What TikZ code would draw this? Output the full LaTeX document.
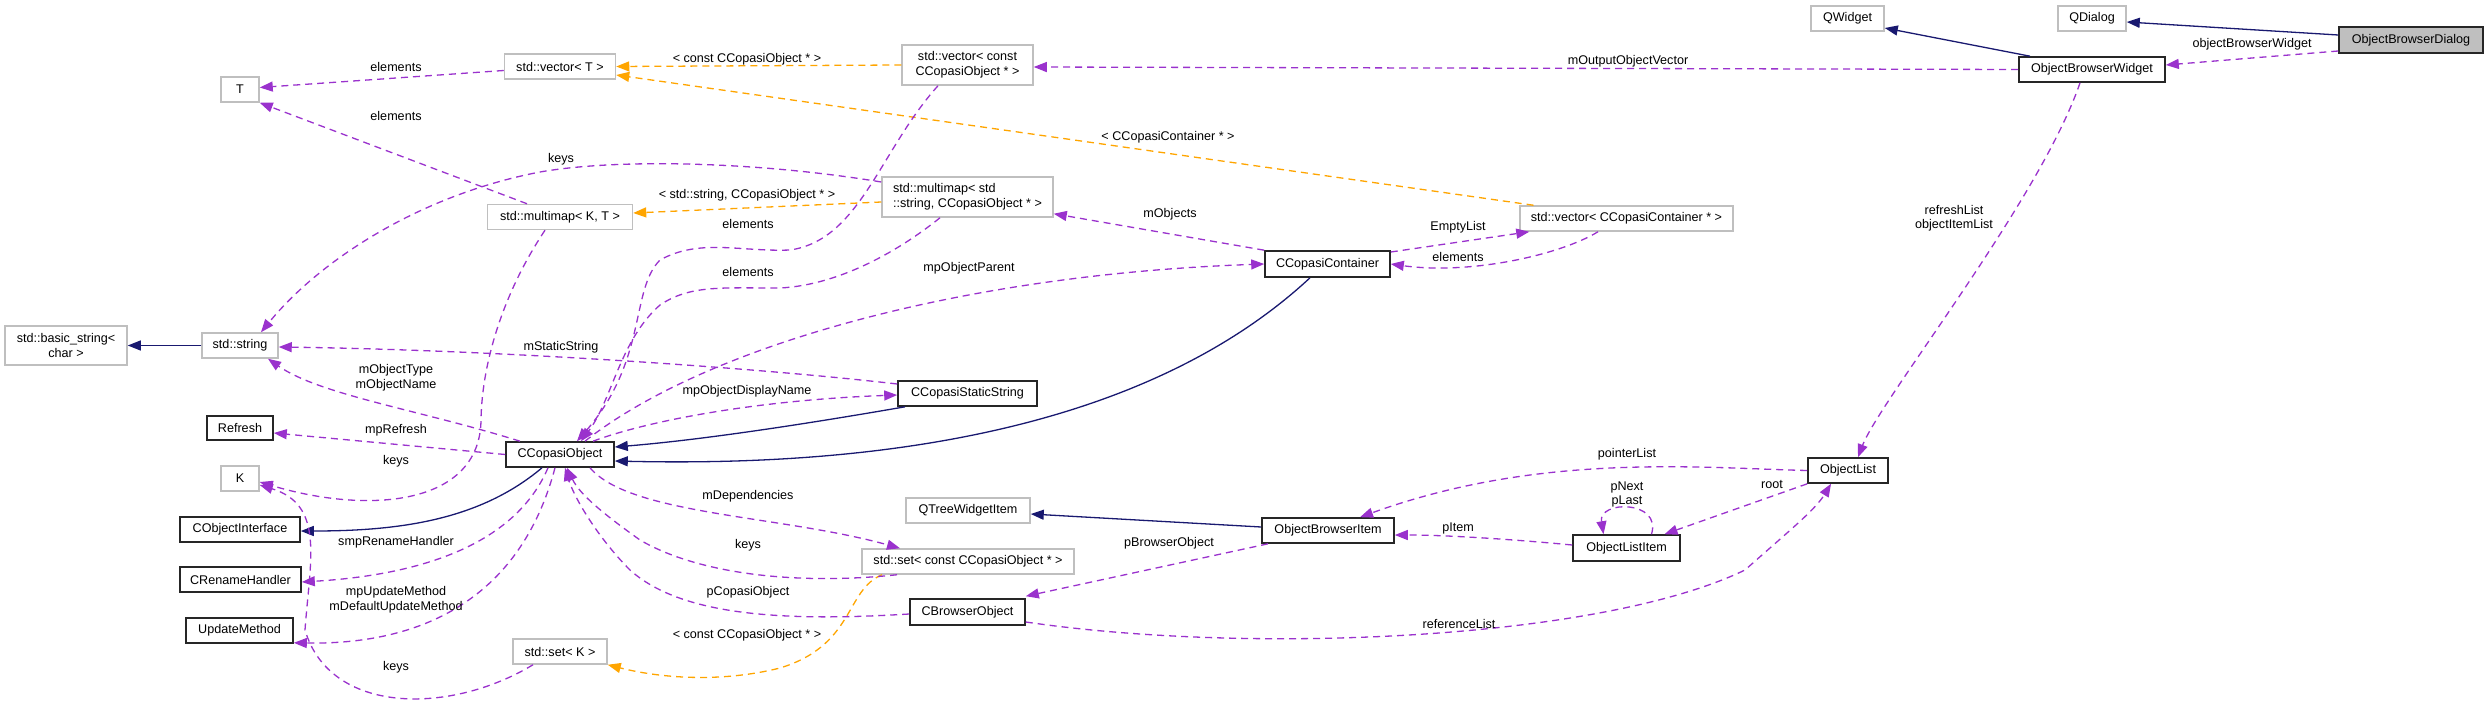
\documentclass[tikz,border=0pt]{standalone}
\usepackage{fontspec}
\setmainfont{Liberation Sans}
\usetikzlibrary{arrows.meta,calc}
\definecolor{purp}{RGB}{154,50,205}
\definecolor{orng}{RGB}{255,165,0}
\definecolor{mblue}{RGB}{25,25,112}
\definecolor{gbord}{RGB}{191,191,191}
\definecolor{gfill}{RGB}{191,191,191}
\begin{document}
\begin{tikzpicture}[x=1pt,y=-1pt,
  every node/.style={font=\fontsize{12.6}{15}\selectfont, inner sep=0pt},
  gbox/.style={draw=gbord, line width=1.5pt, fill=white},
  bbox/.style={draw=black!85, line width=1.6pt, fill=white},
  lbl/.style={fill=none, align=center, font=\fontsize{12.6}{14.5}\selectfont},
  inh/.style={draw=mblue, line width=1.3pt, -{Triangle[length=13pt,width=10pt]}},
  usee/.style={draw=purp, line width=1.3pt, dash pattern=on 7pt off 5pt, -{Triangle[length=13pt,width=10pt]}},
  tpl/.style={draw=orng, line width=1.3pt, dash pattern=on 7pt off 5pt, -{Triangle[length=13pt,width=10pt]}}
]
\useasboundingbox (0,0) rectangle (2488,706);

% nodes
\node[bbox, fill=gfill, minimum width=144pt, minimum height=26pt] (obd) at (2411,40) {ObjectBrowserDialog};
\node[gbox, minimum width=68pt, minimum height=25pt] (qdialog) at (2092,18.5) {QDialog};
\node[gbox, minimum width=73pt, minimum height=25pt] (qwidget) at (1847.5,18.5) {QWidget};
\node[bbox, minimum width=146pt, minimum height=25pt] (obw) at (2092,69.5) {ObjectBrowserWidget};
\node[gbox, minimum width=131pt, minimum height=40pt, align=center] (veccobj) at (967.5,65) {std::vector{\textless} const\\CCopasiObject * {\textgreater}};
\node[gbox, minimum width=111pt, minimum height=25pt] (vecT) at (560,66.5) {std::vector{\textless} T {\textgreater}};
\node[gbox, minimum width=38pt, minimum height=25pt] (T) at (240,89.5) {T};
\node[gbox, minimum width=171pt, minimum height=40pt, align=left] (mmstr) at (967.5,197) {std::multimap{\textless} std\\::string, CCopasiObject * {\textgreater}};
\node[gbox, minimum width=145pt, minimum height=25pt] (mmKT) at (560,217) {std::multimap{\textless} K, T {\textgreater}};
\node[gbox, minimum width=213pt, minimum height=25pt] (veccont) at (1626.5,218.5) {std::vector{\textless} CCopasiContainer * {\textgreater}};
\node[bbox, minimum width=125pt, minimum height=26pt] (ccont) at (1327.5,264) {CCopasiContainer};
\node[gbox, minimum width=122pt, minimum height=39pt, align=center] (bstr) at (66,345.5) {std::basic\_string{\textless}\\char {\textgreater}};
\node[gbox, minimum width=76pt, minimum height=25pt] (sstr) at (240,345.5) {std::string};
\node[bbox, minimum width=139pt, minimum height=25pt] (css) at (967.5,393.5) {CCopasiStaticString};
\node[bbox, minimum width=66pt, minimum height=24pt] (refresh) at (240,428) {Refresh};
\node[bbox, minimum width=108pt, minimum height=25pt] (cobj) at (560,454.5) {CCopasiObject};
\node[gbox, minimum width=38pt, minimum height=25pt] (K) at (240,478.5) {K};
\node[bbox, minimum width=120pt, minimum height=25pt] (coi) at (240,529.5) {CObjectInterface};
\node[bbox, minimum width=121pt, minimum height=25pt] (crh) at (240.5,579.5) {CRenameHandler};
\node[bbox, minimum width=107pt, minimum height=25pt] (um) at (239.5,630.5) {UpdateMethod};
\node[gbox, minimum width=124pt, minimum height=25pt] (qtwi) at (968,510.5) {QTreeWidgetItem};
\node[gbox, minimum width=212pt, minimum height=25pt] (setcobj) at (968,561.5) {std::set{\textless} const CCopasiObject * {\textgreater}};
\node[bbox, minimum width=115pt, minimum height=26pt] (cbo) at (967.5,612) {CBrowserObject};
\node[bbox, minimum width=132pt, minimum height=25pt] (obi) at (1328,530.5) {ObjectBrowserItem};
\node[bbox, minimum width=107pt, minimum height=26pt] (oli) at (1626.5,548) {ObjectListItem};
\node[bbox, minimum width=80pt, minimum height=25pt] (ol) at (1848,470.5) {ObjectList};
\node[gbox, minimum width=94pt, minimum height=25pt] (setK) at (560,651.5) {std::set{\textless} K {\textgreater}};

% inheritance edges
\draw[inh] ([yshift=5pt]obd.west) -- ([yshift=-3.5pt]qdialog.east);
\draw[inh] ([xshift=-62pt]obw.north) -- ([yshift=-9.5pt]qwidget.east);
\draw[inh] (sstr.west) -- (bstr.east);
\draw[inh] ([xshift=-17.5pt]ccont.south) .. controls (1200,380) and (1000,470) .. ([yshift=-6.5pt]cobj.east);
\draw[inh] ([xshift=-62.5pt]css.south) .. controls (800,425) and (700,440) .. ([yshift=7.5pt]cobj.east);
\draw[inh] ([xshift=-18pt]cobj.south) .. controls (480,520) and (400,531) .. ([yshift=-1.5pt]coi.east);
\draw[inh] ([yshift=3.5pt]obi.west) -- ([yshift=-3.5pt]qtwi.east);

% template edges
\draw[tpl] (veccobj.west) -- (vecT.east);
\draw[tpl] ([xshift=-93pt]veccont.north) -- ([yshift=-8.5pt]vecT.east);
\draw[tpl] ([yshift=-5pt]mmstr.west) -- ([yshift=4pt]mmKT.east);
\draw[tpl] ([xshift=-86pt]setcobj.south) .. controls (845,590) and (855,645) .. (780,668) .. controls (720,683) and (660,678) .. (setK.south east);

% usage edges
\draw[usee] ([yshift=-11pt]obd.west) -- ([yshift=4.5pt]obw.east);
\draw[usee] (obw.west) -- ([yshift=-2pt]veccobj.east);
\draw[usee] ([xshift=-12pt]obw.south) .. controls (2040,200) and (1880,400) .. ([xshift=10pt]ol.north);
\draw[usee] ([yshift=-4pt]vecT.west) -- ([yshift=2pt]T.east);
\draw[usee] ([xshift=-33pt]mmKT.north) -- (T.south east);
\draw[usee] ([yshift=15pt]mmstr.west) .. controls (760,162) and (620,158) .. (540,172) .. controls (420,195) and (320,260) .. ([xshift=21pt]sstr.north);
\draw[usee] ([xshift=-15pt]mmKT.south) .. controls (505,290) and (482,360) .. (481,420) .. controls (480,505) and (370,515) .. ([yshift=-3.5pt]K.east);
\draw[usee] ([xshift=-29.5pt]veccobj.south) .. controls (880,150) and (860,240) .. (790,250) .. controls (740,252) and (700,238) .. (660,260) .. controls (630,290) and (648,360) .. ([xshift=17pt]cobj.north);
\draw[usee] ([xshift=-27.5pt]mmstr.south) .. controls (900,250) and (840,285) .. (780,288) .. controls (720,288) and (690,285) .. (660,305) .. controls (620,340) and (612,400) .. ([xshift=21pt]cobj.north);
\draw[usee] ([xshift=25pt]cobj.north) .. controls (700,350) and (950,275) .. (ccont.west);
\draw[usee] (ccont.north west) -- ([yshift=4pt]mmstr.south east);
\draw[usee] ([yshift=12pt]ccont.east) -- ([xshift=10pt]veccont.south west);
\draw[usee] ([xshift=-28.5pt]veccont.south) .. controls (1560,255) and (1470,275) .. (ccont.east);
\draw[usee] ([xshift=33pt]cobj.north) .. controls (650,420) and (760,400) .. ([yshift=-1.5pt]css.west);
\draw[usee] ([yshift=9.5pt]css.west) .. controls (760,368) and (500,350) .. ([yshift=-1.5pt]sstr.east);
\draw[usee] ([xshift=-40pt]cobj.north) .. controls (420,410) and (320,395) .. ([xshift=28pt]sstr.south);
\draw[usee] (cobj.west) -- ([yshift=-5pt]refresh.east);
\draw[usee] ([xshift=-12pt]cobj.south) .. controls (515,545) and (420,575) .. ([yshift=-2.5pt]crh.east);
\draw[usee] ([xshift=-5pt]cobj.south) .. controls (520,600) and (420,645) .. ([yshift=1pt]um.south east);
\draw[usee] ([xshift=-27pt]setK.south) .. controls (450,715) and (330,715) .. (305,630) .. controls (310,560) and (325,505) .. ([yshift=-6.5pt]K.east);
\draw[usee] ([xshift=30pt]cobj.south) .. controls (630,515) and (780,515) .. ([xshift=-68pt]setcobj.north);
\draw[usee] ([xshift=-71pt]setcobj.south) .. controls (800,585) and (700,575) .. (640,540) .. controls (605,515) and (580,495) .. ([xshift=7pt]cobj.south);
\draw[usee] ([yshift=-2pt]cbo.west) .. controls (780,622) and (680,615) .. (630,570) .. controls (600,540) and (575,500) .. ([xshift=5pt]cobj.south);
\draw[usee] ([xshift=-60pt]obi.south) -- ([yshift=2pt]cbo.north east);
\draw[usee] (ol.west) .. controls (1700,468) and (1540,452) .. ([xshift=32pt]obi.north);
\draw[usee] ([yshift=3pt]oli.west) .. controls (1520,540) and (1450,535) .. ([yshift=-4.5pt]obi.east);
\draw[usee] ([xshift=25pt]oli.north) .. controls (1662,500) and (1598,500) .. ([xshift=-23pt]oli.north);
\draw[usee] (ol.south west) -- ([xshift=38pt]oli.north);
\draw[usee] ([yshift=-10pt]cbo.east) .. controls (1250,655) and (1600,640) .. (1745,570) .. controls (1790,530) and (1815,510) .. ([xshift=-17pt]ol.south);

% labels
\node[lbl] (l1) at (396,67) {elements};
\node[lbl] (l2) at (396,116) {elements};
\node[lbl] (l3) at (561,159) {keys};
\node[lbl] (l4) at (747,59) {{\textless} const CCopasiObject * {\textgreater}};
\node[lbl] (l5) at (747,195) {{\textless} std::string, CCopasiObject * {\textgreater}};
\node[lbl] (l6) at (748,224) {elements};
\node[lbl] (l7) at (748,272) {elements};
\node[lbl] (l8) at (1168,137) {{\textless} CCopasiContainer * {\textgreater}};
\node[lbl] (l9) at (1170,214) {mObjects};
\node[lbl] (l10) at (969,268) {mpObjectParent};
\node[lbl] (l11) at (1628,61) {mOutputObjectVector};
\node[lbl] (l12) at (2252,44) {objectBrowserWidget};
\node[lbl] (l13) at (1954,218) {refreshList\\objectItemList};
\node[lbl] (l14) at (1458,227) {EmptyList};
\node[lbl] (l15) at (1458,257) {elements};
\node[lbl] (l16) at (561,347) {mStaticString};
\node[lbl] (l17) at (396,377.5) {mObjectType\\mObjectName};
\node[lbl] (l18) at (396,430) {mpRefresh};
\node[lbl] (l19) at (396,461) {keys};
\node[lbl] (l20) at (396,542) {smpRenameHandler};
\node[lbl] (l21) at (396,599.5) {mpUpdateMethod\\mDefaultUpdateMethod};
\node[lbl] (l22) at (396,667) {keys};
\node[lbl] (l23) at (747,391) {mpObjectDisplayName};
\node[lbl] (l24) at (748,496) {mDependencies};
\node[lbl] (l25) at (748,545) {keys};
\node[lbl] (l26) at (748,592) {pCopasiObject};
\node[lbl] (l27) at (747,635) {{\textless} const CCopasiObject * {\textgreater}};
\node[lbl] (l28) at (1169,543) {pBrowserObject};
\node[lbl] (l29) at (1459,624) {referenceList};
\node[lbl] (l30) at (1627,454) {pointerList};
\node[lbl] (l31) at (1627,494.5) {pNext\\pLast};
\node[lbl] (l32) at (1772,484) {root};
\node[lbl] (l33) at (1458,528) {pItem};
\end{tikzpicture}
\end{document}
